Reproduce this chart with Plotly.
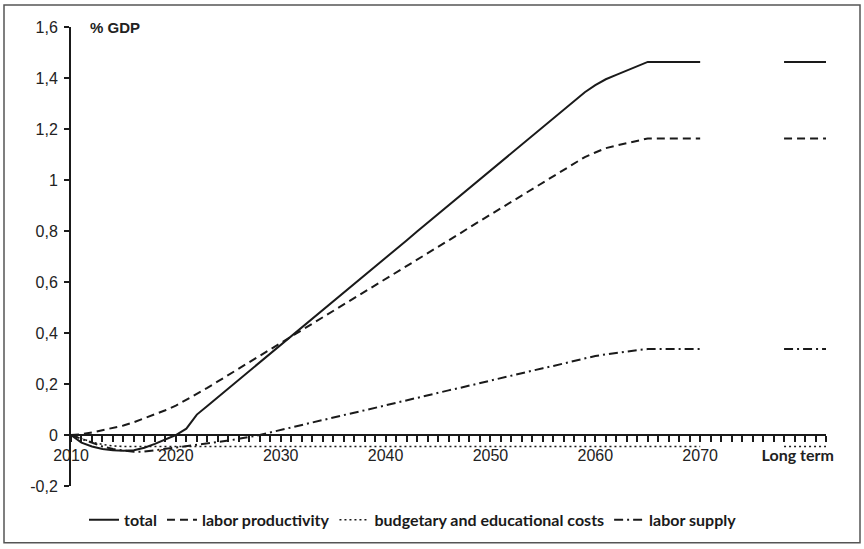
import plotly.graph_objects as go

years = list(range(2010, 2071))

total = [0.0, -0.03, -0.045, -0.055, -0.06, -0.062, -0.06, -0.05, -0.035, -0.018,
         0.0, 0.025, 0.08, 0.114, 0.148, 0.182, 0.217, 0.251, 0.285, 0.319,
         0.353, 0.387, 0.422, 0.456, 0.49, 0.524, 0.558, 0.593, 0.627, 0.661,
         0.695, 0.729, 0.763, 0.798, 0.832, 0.866, 0.9, 0.934, 0.969, 1.003,
         1.037, 1.071, 1.105, 1.139, 1.174, 1.208, 1.242, 1.276, 1.31, 1.344,
         1.372, 1.395, 1.412, 1.43, 1.447, 1.463, 1.463, 1.463, 1.463, 1.463,
         1.463]
labor_productivity = [0.0, 0.003, 0.01, 0.018, 0.027, 0.037, 0.05, 0.065, 0.08, 0.097,
                      0.115, 0.138, 0.16, 0.185, 0.21, 0.235, 0.261, 0.286, 0.311, 0.336,
                      0.361, 0.386, 0.411, 0.437, 0.462, 0.487, 0.512, 0.537, 0.562, 0.587,
                      0.612, 0.638, 0.663, 0.688, 0.713, 0.738, 0.763, 0.788, 0.814, 0.839,
                      0.864, 0.889, 0.914, 0.939, 0.964, 0.99, 1.015, 1.04, 1.065, 1.09,
                      1.108, 1.125, 1.135, 1.145, 1.155, 1.163, 1.163, 1.163, 1.163, 1.163,
                      1.163]
budgetary_costs = [0.0, -0.015, -0.028, -0.037, -0.043] + [-0.045] * 56
labor_supply = [0.0, -0.015, -0.03, -0.045, -0.055, -0.062, -0.066, -0.065, -0.06, -0.055,
                -0.05, -0.045, -0.04, -0.034, -0.028, -0.022, -0.015, -0.008, 0.0, 0.01,
                0.02, 0.029, 0.039, 0.049, 0.058, 0.068, 0.078, 0.087, 0.097, 0.107,
                0.117, 0.126, 0.136, 0.146, 0.155, 0.165, 0.175, 0.184, 0.194, 0.204,
                0.213, 0.223, 0.233, 0.242, 0.252, 0.262, 0.271, 0.281, 0.291, 0.3,
                0.31, 0.316, 0.322, 0.328, 0.333, 0.337, 0.337, 0.337, 0.337, 0.337,
                0.337]

long_term = {"total": 1.463, "labor productivity": 1.163,
             "budgetary and educational costs": -0.045, "labor supply": 0.337}

x_tick_vals = [2010, 2020, 2030, 2040, 2050, 2060, 2070]
long_term_label = "Long term"
y_tick_vals = [-0.2, 0, 0.2, 0.4, 0.6, 0.8, 1.0, 1.2, 1.4, 1.6]
y_tick_text = ["-0,2", "0", "0,2", "0,4", "0,6", "0,8", "1", "1,2", "1,4", "1,6"]

# display layout of the long-term block (positions on the year axis)
LT_START, LT_END, LT_LABEL = 2078, 2082, 2079.3
X_MAX = 2082

INK = "#1a1a1a"
styles = {
    "total": dict(dash="solid", width=2),
    "labor productivity": dict(dash="8px,5px", width=2),
    "budgetary and educational costs": dict(dash="2px,3px", width=1.6),
    "labor supply": dict(dash="9px,4px,2px,4px", width=2),
}
series = {
    "total": total,
    "labor productivity": labor_productivity,
    "budgetary and educational costs": budgetary_costs,
    "labor supply": labor_supply,
}

fig = go.Figure()
for name, vals in series.items():
    st = styles[name]
    xs = years + [None] + [LT_START, LT_END]
    ys = vals + [None] + [long_term[name], long_term[name]]
    fig.add_trace(go.Scatter(
        x=xs, y=ys, mode="lines", name=name, connectgaps=False,
        line=dict(color=INK, width=st["width"], dash=st["dash"]),
    ))

W, H = 864, 549
L, R, T, B = 71, 38, 27, 61
pw, ph = W - L - R, H - T - B
y_min, y_max = -0.2, 1.6

fig.update_layout(
    width=W, height=H,
    margin=dict(l=L, r=R, t=T, b=B, pad=0),
    paper_bgcolor="white", plot_bgcolor="white",
    showlegend=True,
    legend=dict(orientation="h", x=(413 - L) / pw, xanchor="center",
                y=(H - B - 522) / ph, yanchor="middle",
                font=dict(family="Lato", size=16, color=INK, weight="bold"),
                itemwidth=30, tracegroupgap=0, bgcolor="rgba(0,0,0,0)"),
    font=dict(family="Liberation Sans", color="#222"),
)

fig.update_xaxes(
    range=[2010, X_MAX], showgrid=False, zeroline=False,
    showline=True, linecolor=INK, linewidth=2,
    anchor="free", position=(0 - y_min) / (y_max - y_min),
    tickmode="array", tickvals=x_tick_vals + [LT_LABEL],
    ticktext=[str(v) for v in x_tick_vals]
    + ["<span style='font-family:Lato;font-weight:bold;font-size:16px'>"
       + long_term_label + "</span>"],
    ticks="outside", ticklen=0, tickcolor=INK, ticklabelstandoff=6,
    tickfont=dict(family="Liberation Sans", size=16, color="#222"),
    minor=dict(tickmode="linear", tick0=2010, dtick=1, ticks="outside",
               ticklen=6, tickwidth=1.5, tickcolor=INK, showgrid=False),
)
fig.update_yaxes(
    range=[y_min, y_max], showgrid=False, zeroline=False,
    showline=True, linecolor=INK, linewidth=2,
    tickmode="array", tickvals=y_tick_vals, ticktext=y_tick_text,
    ticks="outside", ticklen=5, tickwidth=2, tickcolor=INK, ticklabelstandoff=3,
    tickfont=dict(family="Liberation Sans", size=16, color="#222"),
)

fig.add_annotation(text="<b>% GDP</b>", xref="paper", yref="y",
                   x=(88 - L) / pw, y=1.6, xanchor="left", yanchor="middle",
                   showarrow=False, font=dict(family="Liberation Sans", size=15, color="#222"))

fig.add_shape(type="rect", xref="paper", yref="paper",
              x0=(4 - L) / pw, x1=(860 - L) / pw,
              y0=(H - B - 545) / ph, y1=(H - B - 5) / ph,
              line=dict(color="#555", width=1.5), layer="below")

fig.write_html("out.html",
               config={"displayModeBar": False},
               post_script="document.body.style.margin='0';"
                           "document.body.style.overflow='hidden';")
